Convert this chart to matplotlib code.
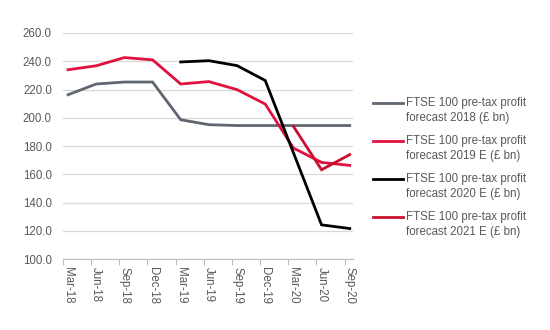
import matplotlib
matplotlib.use("Agg")
import matplotlib.pyplot as plt
from matplotlib.legend_handler import HandlerLine2D
import numpy as np

# categories and series
quarters = ["Mar-18", "Jun-18", "Sep-18", "Dec-18", "Mar-19", "Jun-19",
            "Sep-19", "Dec-19", "Mar-20", "Jun-20", "Sep-20"]
profit_2018 = [216.3, 223.9, 225.3, 225.3, 198.6, 195.1, 194.5, 194.5, 194.5, 194.5, 194.5]
profit_2019 = [234.0, 236.8, 242.6, 241.0, 223.9, 225.6, 219.9, 209.7, 178.6, 168.4, 166.3]
profit_2020 = [None, None, None, None, 239.5, 240.4, 236.9, 226.4, 175.3, 124.2, 121.6]
profit_2021 = [None, None, None, None, None, None, None, None, 193.9, 163.2, 173.9]

labels = ["FTSE 100 pre-tax profit\nforecast 2018 (£ bn)",
          "FTSE 100 pre-tax profit\nforecast 2019 E (£ bn)",
          "FTSE 100 pre-tax profit\nforecast 2020 E (£ bn)",
          "FTSE 100 pre-tax profit\nforecast 2021 E (£ bn)"]
colors = ["#5f6670", "#e0103f", "#000000", "#c8102e"]

plt.rcParams["font.family"] = ["Liberation Sans", "DejaVu Sans"]
txt_color = "#595959"


# legend line sits beside the first text line, like Excel does
class TopLine(HandlerLine2D):
    def create_artists(self, legend, orig, xdescent, ydescent, width, height, fontsize, trans):
        arts = super().create_artists(legend, orig, xdescent, ydescent, width, height, fontsize, trans)
        for a in arts:
            a.set_ydata(np.asarray(a.get_ydata()) + fontsize * 0.72)
        return arts


fig = plt.figure(figsize=(5.5, 3.3), dpi=100)
ax = fig.add_axes([0.1145, 0.215, 0.527, 0.685])

x = np.arange(len(quarters))
for vals, lab, col in zip([profit_2018, profit_2019, profit_2020, profit_2021], labels, colors):
    y = np.array([np.nan if v is None else v for v in vals], dtype=float)
    ax.plot(x, y, color=col, lw=2, label=lab, solid_joinstyle="miter")

ax.set_ylim(100, 260)
ax.set_yticks(np.arange(100, 261, 20))
ax.set_yticklabels([f"{v:.1f}" for v in np.arange(100, 261, 20)], fontsize=8.3, color=txt_color)
ax.set_xlim(-0.18, 10.11)
ax.set_xticks(x)
ax.set_xticklabels(quarters, rotation=270, fontsize=8.3, color=txt_color, va="top", ha="center")
ax.set_xticks(x - 0.18, minor=True)
ax.tick_params(axis="x", which="major", length=0, pad=6)
ax.tick_params(axis="x", which="minor", length=4, color="#bfbfbf", width=0.8)
ax.tick_params(axis="y", length=0, pad=8)

ax.grid(axis="y", color="#d9d9d9", lw=0.9)
ax.set_axisbelow(True)
for s in ["top", "right", "left"]:
    ax.spines[s].set_visible(False)
ax.spines["bottom"].set_color("#bfbfbf")
ax.spines["bottom"].set_linewidth(0.8)

leg = fig.legend(loc="upper left", bbox_to_anchor=(0.66, 0.738), frameon=False,
                 fontsize=8.3, handlelength=2.6, handletextpad=0.2, labelspacing=0.95,
                 handler_map={plt.Line2D: TopLine()})
for t in leg.get_texts():
    t.set_color(txt_color)
    t.set_linespacing(1.35)

fig.savefig("out.png", dpi=100)
